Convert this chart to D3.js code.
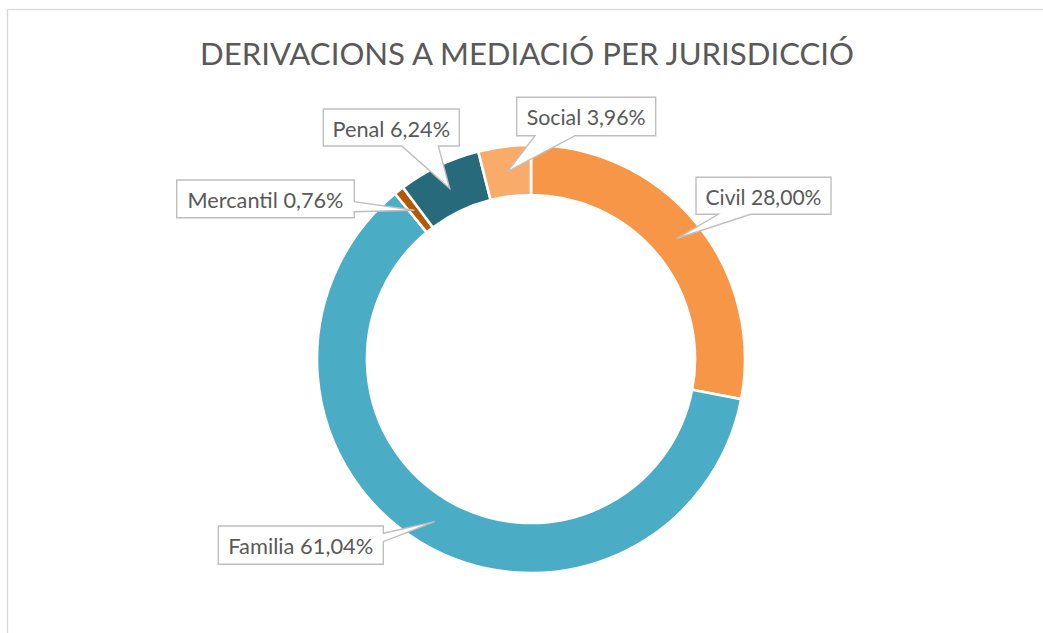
<!DOCTYPE html>
<html>
<head>
<meta charset="utf-8">
<script src="https://cdn.jsdelivr.net/npm/d3@7"></script>
<style>
  html, body { margin: 0; padding: 0; background: #ffffff; }
  svg { display: block; }
</style>
</head>
<body>
<script>
// ---- data ----
const categories = ["Civil", "Familia", "Mercantil", "Penal", "Social"];
const values = [28.00, 61.04, 0.76, 6.24, 3.96];
const valueLabels = ["28,00%", "61,04%", "0,76%", "6,24%", "3,96%"];
const titleText = "DERIVACIONS A MEDIACIÓ PER JURISDICCIÓ";

// ---- styles / layout ----
const colors = ["#F79646", "#4BACC6", "#B65708", "#276A7C", "#F9AC6A"];
const W = 1043, H = 633;
const cx = 531, cy = 359, rOuter = 214, rInner = 164;

// callout boxes (layout only)
const labelLayout = {
  "Civil":     { x: 696,   y: 177.3, w: 135,   h: 37,   side: "bottom", base: [718.3, 750.7], tw: 116 },
  "Familia":   { x: 218.3, y: 526,   w: 165,   h: 38.3, side: "right",  base: [533.3, 541.7], tw: 145 },
  "Mercantil": { x: 176.7, y: 180,   w: 177.6, h: 37.7, side: "right",  base: [201.7, 211.7], tw: 156 },
  "Penal":     { x: 323.3, y: 109,   w: 136,   h: 37,   side: "bottom", base: [401.7, 438.3], tw: 117.6 },
  "Social":    { x: 516.7, y: 97.3,  w: 139,   h: 38.4, side: "bottom", base: [535, 575],     tw: 119 }
};

const svg = d3.select("body").append("svg")
  .attr("width", W).attr("height", H);

svg.append("rect").attr("width", W).attr("height", H).attr("fill", "#ffffff");

// chart area border
svg.append("rect")
  .attr("x", 7.5).attr("y", 9.5)
  .attr("width", 1200).attr("height", 800)
  .attr("fill", "none")
  .attr("stroke", "#D9D9D9")
  .attr("stroke-width", 1.3);

// title
svg.append("text")
  .attr("x", 527).attr("y", 65)
  .attr("text-anchor", "middle")
  .attr("font-family", "Lato, 'Open Sans', sans-serif")
  .attr("font-weight", 400)
  .attr("font-size", 30)
  .attr("fill", "#595959")
  .attr("textLength", 654)
  .attr("lengthAdjust", "spacingAndGlyphs")
  .text(titleText);

const data = categories.map((c, i) => ({ name: c, value: values[i], label: valueLabels[i], color: colors[i] }));

const pie = d3.pie().sort(null).value(d => d.value).startAngle(0).endAngle(2 * Math.PI);
const arc = d3.arc().innerRadius(rInner).outerRadius(rOuter);
const arcs = pie(data);

const g = svg.append("g").attr("transform", `translate(${cx},${cy})`);
g.selectAll("path.slice")
  .data(arcs)
  .join("path")
  .attr("class", "slice")
  .attr("d", arc)
  .attr("fill", d => d.data.color)
  .attr("stroke", "#ffffff")
  .attr("stroke-width", 2.6)
  .attr("stroke-linejoin", "miter");

// callouts
function calloutPath(b, tip) {
  const x = b.x, y = b.y, w = b.w, h = b.h;
  const [a, c] = b.base;
  const [tx, ty] = tip;
  if (b.side === "bottom") {
    return `M${x},${y}L${x + w},${y}L${x + w},${y + h}L${c},${y + h}L${tx},${ty}L${a},${y + h}L${x},${y + h}Z`;
  }
  return `M${x},${y}L${x + w},${y}L${x + w},${a}L${tx},${ty}L${x + w},${c}L${x + w},${y + h}L${x},${y + h}Z`;
}

const labels = svg.append("g");
arcs.forEach(d => {
  const b = labelLayout[d.data.name];
  const cen = arc.centroid(d);
  const tip = [cx + cen[0], cy + cen[1]];
  labels.append("path")
    .attr("d", calloutPath(b, tip))
    .attr("fill", "#ffffff")
    .attr("stroke", "#BFBFBF")
    .attr("stroke-width", 1.4)
    .attr("stroke-linejoin", "miter");
  labels.append("text")
    .attr("x", b.x + b.w / 2)
    .attr("y", b.y + 27.6)
    .attr("text-anchor", "middle")
    .attr("font-family", "Lato, 'Open Sans', sans-serif")
    .attr("font-size", 21)
    .attr("fill", "#595959")
    .attr("textLength", b.tw)
    .attr("lengthAdjust", "spacingAndGlyphs")
    .text(`${d.data.name} ${d.data.label}`);
});
</script>
</body>
</html>
